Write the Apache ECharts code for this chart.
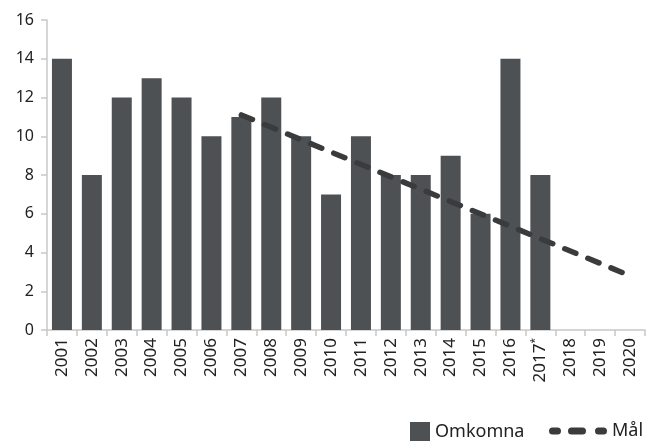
<!DOCTYPE html>
<html><head><meta charset="utf-8">
<script src="https://cdn.jsdelivr.net/npm/echarts@6/dist/echarts.min.js"></script>
<style>html,body{margin:0;padding:0;background:#fff}#c{width:647px;height:442px}</style>
</head><body><div id="c"></div>
<script>
const categories = ['2001','2002','2003','2004','2005','2006','2007','2008','2009','2010','2011','2012','2013','2014','2015','2016','2017*','2018','2019','2020'];
const omkomna = [14,8,12,13,12,10,11,12,10,7,10,8,8,9,6,14,8,null,null,null];
const mal = [null,null,null,null,null,null,11.1,null,null,null,null,null,null,null,null,null,null,null,null,2.8];
const yTicks = [0,2,4,6,8,10,12,14,16];

const font = '"Noto Sans", sans-serif';
const dashIcon = 'path://M3.5,0H8.5A3.5,3.5,0,0,1,8.5,7H3.5A3.5,3.5,0,0,1,3.5,0Z' +
  'M22.5,0H33.5A3.5,3.5,0,0,1,33.5,7H22.5A3.5,3.5,0,0,1,22.5,0Z' +
  'M49.5,0H54.5A3.5,3.5,0,0,1,54.5,7H49.5A3.5,3.5,0,0,1,49.5,0Z';
const chart = echarts.init(document.getElementById('c'), null, {renderer:'canvas'});
chart.setOption({
  animation:false,
  grid:{left:47,right:2,top:20,bottom:112,containLabel:false},
  legend:[
    {data:['Omkomna'],left:410,top:422,padding:0,itemWidth:20,itemHeight:19,icon:'rect',itemGap:0,
     textStyle:{fontFamily:font,fontSize:18,color:'#222'}},
    {data:[{name:'Mål',icon:dashIcon}],left:549,top:422,padding:0,itemWidth:58,itemHeight:19,
     itemStyle:{color:'#3a3b3c',borderWidth:0},lineStyle:{width:0},
     textStyle:{fontFamily:font,fontSize:18,color:'#222'}}
  ],
  xAxis:{type:'category',data:categories,
    axisLine:{lineStyle:{color:'#c8c8c8',width:1.5}},
    axisTick:{show:true,length:6,lineStyle:{color:'#c8c8c8',width:1.5}},
    axisLabel:{rotate:90,margin:8,fontFamily:font,fontSize:17,color:'#222',
      formatter:function(v){ if(v.indexOf('*')>=0){return '{a|'+v.replace('*','')+'}{s|*}';} return v; },
      rich:{a:{fontFamily:font,fontSize:17,color:'#222'},s:{fontFamily:font,fontSize:10,color:'#222',verticalAlign:'top',padding:[0,0,10,0]}}}
  },
  yAxis:{type:'value',min:yTicks[0],max:yTicks[yTicks.length-1],interval:2,
    axisLine:{show:true,lineStyle:{color:'#c8c8c8',width:1.5}},
    axisTick:{show:true,length:6,lineStyle:{color:'#c8c8c8',width:1.5}},
    splitLine:{show:false},
    axisLabel:{margin:13,fontFamily:font,fontSize:16,color:'#222'}
  },
  series:[
    {name:'Omkomna',type:'bar',data:omkomna,barWidth:20,itemStyle:{color:'#4e5154'}},
    {name:'Mål',type:'line',data:mal,connectNulls:true,symbol:'none',
     lineStyle:{color:'#3a3b3c',width:5.5,type:[12,13],cap:'round'},itemStyle:{color:'#3a3b3c'}}
  ]
});
</script></body></html>
